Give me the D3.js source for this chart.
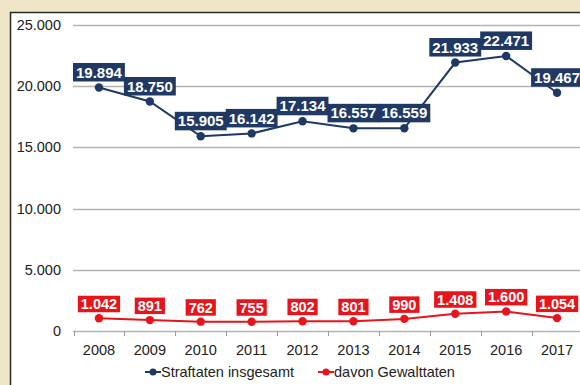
<!DOCTYPE html>
<html>
<head>
<meta charset="utf-8">
<script src="https://cdn.jsdelivr.net/npm/d3@7"></script>
<style>
  html, body { margin: 0; padding: 0; background: #efe6c8; }
  svg { display: block; }
</style>
</head>
<body>
<svg id="chart" width="580" height="385"></svg>
<script>
// Crime statistics 2008–2017
const years = ["2008", "2009", "2010", "2011", "2012", "2013", "2014", "2015", "2016", "2017"];
const totalOffences = [19894, 18750, 15905, 16142, 17134, 16557, 16559, 21933, 22471, 19467];
const violentOffences = [1042, 891, 762, 755, 802, 801, 990, 1408, 1600, 1054];
const yTicks = [0, 5000, 10000, 15000, 20000, 25000];
const seriesNames = ["Straftaten insgesamt", "davon Gewalttaten"];

const navy = "#1f3864";
const red = "#e8141c";
const fmt = d3.formatLocale({ decimal: ",", thousands: ".", grouping: [3], currency: ["", "€"] }).format(",d");

const svg = d3.select("#chart");

// white plot panel with dark top/left border
svg.append("rect").attr("x", 11).attr("y", 12).attr("width", 600).attr("height", 400).attr("fill", "#fff");
svg.append("path").attr("d", "M10.5,400V12.5H600").attr("fill", "none").attr("stroke", "#2a2a2a").attr("stroke-width", 1.5);

const x = d3.scaleBand().domain(years).range([73.5, 582.5]);
const y = d3.scaleLinear().domain([0, 25000]).range([331, 25]);
const cx = d => x(d) + x.bandwidth() / 2;

// horizontal gridlines
svg.append("g").selectAll("line").data(yTicks).join("line")
  .attr("x1", 73).attr("x2", 600)
  .attr("y1", d => Math.round(y(d)) + 0.5).attr("y2", d => Math.round(y(d)) + 0.5)
  .attr("stroke", "#b4b4b4").attr("stroke-width", 1.5);

// y-axis labels
svg.append("g").selectAll("text").data(yTicks).join("text")
  .attr("x", 61).attr("y", d => y(d)).attr("dy", "0.35em")
  .attr("text-anchor", "end")
  .attr("font-family", "Liberation Sans, Arial, sans-serif").attr("font-size", 14.5)
  .attr("fill", "#222").text(d => fmt(d));

// category boundary ticks below the baseline
const bounds = years.map(d => x(d)).concat([x.range()[1]]);
svg.append("g").selectAll("line").data(bounds).join("line")
  .attr("x1", d => Math.round(d) + 0.5).attr("x2", d => Math.round(d) + 0.5)
  .attr("y1", y(0)).attr("y2", y(0) + 5)
  .attr("stroke", "#9a9a9a").attr("stroke-width", 1);

// x-axis labels
svg.append("g").selectAll("text").data(years).join("text")
  .attr("x", d => cx(d)).attr("y", 355)
  .attr("text-anchor", "middle")
  .attr("font-family", "Liberation Sans, Arial, sans-serif").attr("font-size", 14.5)
  .attr("fill", "#222").text(d => d);

function drawSeries(values, color, fontSize, boxH) {
  const pts = years.map((yr, i) => ({ yr, v: values[i] }));
  const g = svg.append("g");
  g.append("path").datum(pts)
    .attr("d", d3.line().x(d => cx(d.yr)).y(d => y(d.v)))
    .attr("fill", "none").attr("stroke", color).attr("stroke-width", 2);
  g.selectAll("circle").data(pts).join("circle")
    .attr("cx", d => cx(d.yr)).attr("cy", d => y(d.v)).attr("r", 4.2).attr("fill", color);

  const lab = g.selectAll("g.lab").data(pts).join("g").attr("class", "lab");
  const txt = lab.append("text")
    .attr("x", d => cx(d.yr)).attr("y", d => y(d.v) - 6 - boxH / 2)
    .attr("dy", "0.36em").attr("text-anchor", "middle")
    .attr("font-family", "Liberation Sans, Arial, sans-serif").attr("font-weight", "bold")
    .attr("font-size", fontSize).attr("fill", "#fff")
    .text(d => fmt(d.v));
  txt.each(function (d) {
    const w = this.getComputedTextLength() + 6;
    d3.select(this.parentNode).insert("rect", "text")
      .attr("x", cx(d.yr) - w / 2).attr("y", y(d.v) - 6 - boxH)
      .attr("width", w).attr("height", boxH).attr("fill", color);
  });
}

drawSeries(totalOffences, navy, 15, 18.5);
drawSeries(violentOffences, red, 14.5, 16.5);

// legend
const legend = [
  { name: seriesNames[0], color: navy, x0: 145 },
  { name: seriesNames[1], color: red, x0: 318 }
];
const lg = svg.append("g").selectAll("g").data(legend).join("g");
lg.append("line").attr("x1", d => d.x0).attr("x2", d => d.x0 + 16)
  .attr("y1", 372).attr("y2", 372).attr("stroke", d => d.color).attr("stroke-width", 2);
lg.append("circle").attr("cx", d => d.x0 + 8).attr("cy", 372).attr("r", 3.5).attr("fill", d => d.color);
lg.append("text").attr("x", d => d.x0 + 16).attr("y", 372).attr("dy", "0.36em")
  .attr("font-family", "Liberation Sans, Arial, sans-serif").attr("font-size", 14.5)
  .attr("fill", "#222").text(d => d.name);
</script>
</body>
</html>
